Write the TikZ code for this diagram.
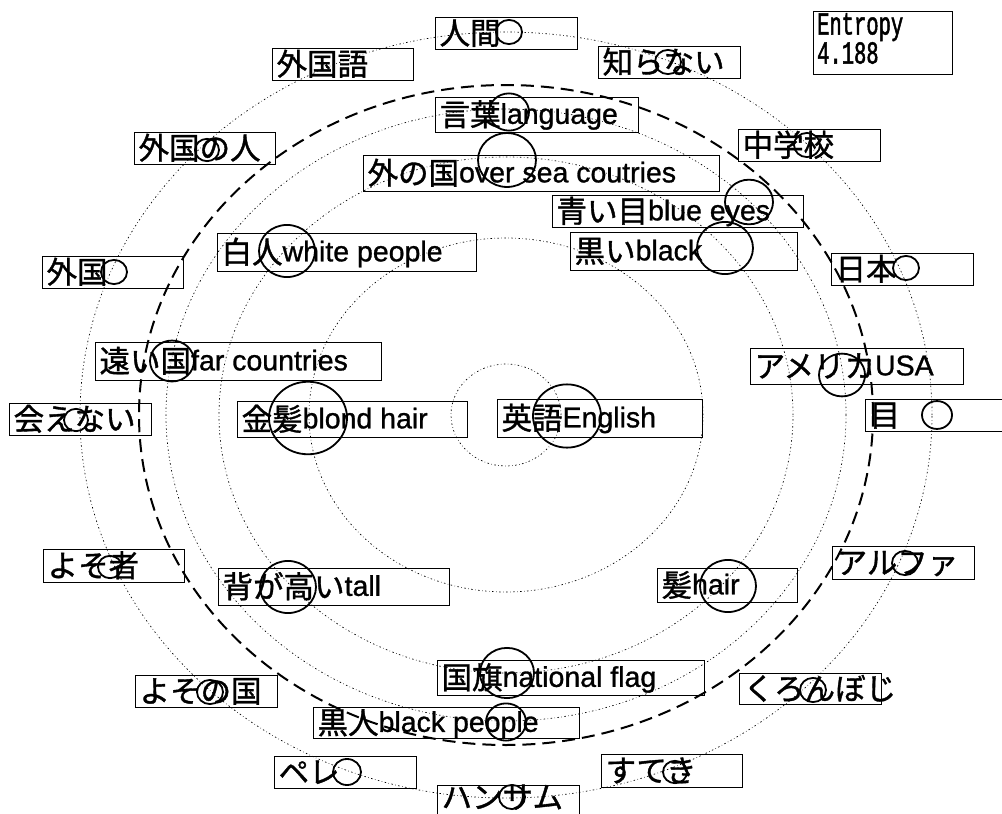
\documentclass[tikz,border=0pt]{standalone}
\usepackage{fontspec}
\setmainfont{Liberation Sans}
\newfontfamily\jpfont[FakeBold=1.2]{Noto Sans CJK JP}
\newfontfamily\enfont[FakeBold=1]{Liberation Sans}
\newfontfamily\entfont[FakeStretch=0.64,FakeBold=1.5]{Liberation Mono}
\usetikzlibrary{shapes.geometric}
\newcommand\J[1]{{\jpfont\fontsize{30.5}{31}\selectfont #1}}
\newcommand\E[1]{\raisebox{2pt}{\enfont\fontsize{28.5}{30}\selectfont #1}}
% name, left, top, right, bottom, content
\newcommand\wbox[6]{\node[wordbox, minimum width={(#4-#2)*1pt}, minimum height={(#5-#3)*1pt}] (#1) at (#2,#3) {\makebox[\dimexpr #4pt-#2pt\relax][l]{\hspace{4pt}#6}};}
% name, x, y, radius
\newcommand\fc[4]{\node[freq, minimum width={2*#4*1pt}, minimum height={1.86*#4*1pt}] (#1) at (#2,#3) {};}
\begin{document}
\begin{tikzpicture}[x=1pt,y=-1pt,
  wordbox/.style={draw, line width=1.2pt, rectangle, anchor=north west, inner sep=0pt, text height=25.5pt, text depth=4pt},
  freq/.style={draw, ellipse, line width=1.8pt, inner sep=0pt},
  ring/.style={line width=0.7pt, dash pattern=on 1.5pt off 2.5pt on 0.5pt off 2.5pt},
  bigdash/.style={line width=2pt, dash pattern=on 13pt off 7pt}]
\useasboundingbox (0,0) rectangle (1002,814);
\fill[white] (0,0) rectangle (1002,814);
\coordinate (ctr) at (506,415);
% concentric rings
\draw[ring] (ctr) ellipse [x radius=426pt, y radius=383pt];
\draw[ring] (ctr) ellipse [x radius=340pt, y radius=306pt];
\draw[ring] (ctr) ellipse [x radius=287pt, y radius=258pt];
\draw[ring] (ctr) ellipse [x radius=197pt, y radius=177pt];
\draw[ring] (ctr) ellipse [x radius=55pt, y radius=51pt];
\draw[bigdash] (ctr) ellipse [x radius=367pt, y radius=330pt];
% word boxes
\wbox{b1}{435}{17}{577}{49}{\J{人間}}
\wbox{b2}{272}{48}{413}{80}{\J{外国語}}
\wbox{b3}{598}{46}{740}{78}{\J{知らない}}
\wbox{b4}{435}{97}{638}{132}{\J{言葉}\E{language}}
\wbox{b5}{134}{132}{275}{164}{\J{外国の人}}
\wbox{b6}{738}{129}{880}{161}{\J{中学校}}
\wbox{b7}{363}{155}{719}{191}{\J{外の国}\E{over sea coutries}}
\wbox{b8}{552}{195}{803}{227}{\J{青い目}\E{blue eyes}}
\wbox{b9}{570}{232}{797}{270}{\J{黒い}\E{black}}
\wbox{b10}{217}{233}{476}{271}{\J{白人}\E{white people}}
\wbox{b11}{42}{256}{183}{288}{\J{外国}}
\wbox{b12}{831}{253}{973}{285}{\J{日本}}
\wbox{b13}{95}{342}{381}{380}{\J{遠い国}\E{far countries}}
\wbox{b14}{750}{348}{963}{384}{\J{アメリカ}\E{USA}}
\wbox{b15}{9}{403}{151}{435}{\J{会えない}}
\wbox{b16}{237}{401}{467}{437}{\J{金髪}\E{blond hair}}
\wbox{b17}{497}{399}{702}{437}{\J{英語}\E{English}}
\wbox{b18}{865}{399}{1007}{431}{\J{目}}
\wbox{b19}{43}{549}{184}{582}{\J{よそ者}}
\wbox{b20}{218}{568}{449}{605}{\J{背が高い}\E{tall}}
\wbox{b21}{657}{568}{797}{602}{\J{髪}\E{hair}}
\wbox{b22}{832}{546}{974}{579}{\J{アルファ}}
\wbox{b23}{437}{660}{704}{695}{\J{国旗}\E{national flag}}
\wbox{b24}{135}{675}{277}{707}{\J{よその国}}
\wbox{b25}{739}{673}{881}{704}{\J{くろんぼじ}}
\wbox{b26}{313}{707}{579}{738}{\J{黒人}\E{black people}}
\wbox{b27}{274}{756}{416}{788}{\J{ペレ}}
\wbox{b28}{601}{754}{742}{787}{\J{すてき}}
\wbox{b29}{437}{785}{579}{817}{\raisebox{4pt}{\J{ハンサム}}}
% entropy box
\node[draw, line width=1.2pt, rectangle, anchor=north west, inner sep=0pt, minimum width=139pt, minimum height=63pt] (ent) at (813,11) {};
\node[anchor=north west, inner sep=0pt, align=left, font=\entfont\fontsize{32}{27}\selectfont] (entt) at (817,13) {Entropy\\4.188};
% frequency circles
\fc{c1}{509}{32}{13}
\fc{c3}{668}{62}{13}
\fc{c4}{509}{112}{20}
\fc{c5}{207}{150}{12}
\fc{c6}{807}{145}{13}
\fc{c7}{507}{160}{29}
\fc{c8}{749}{202}{24}
\fc{c9}{725}{248}{28}
\fc{c10}{287}{251}{28}
\fc{c11}{114}{272}{13}
\fc{c12}{906}{268}{13}
\fc{c13}{172}{361}{22}
\fc{c14}{842}{375}{23}
\fc{c15}{76}{420}{12}
\fc{c16}{308}{418}{39}
\fc{c17}{567}{416}{34}
\fc{c18}{937}{415}{15}
\fc{c19}{110}{567}{12}
\fc{c20}{288}{587}{28}
\fc{c21}{728}{586}{28}
\fc{c22}{905}{563}{13}
\fc{c23}{507}{673}{27}
\fc{c24}{210}{692}{13}
\fc{c25}{813}{690}{13}
\fc{c26}{506}{722}{20}
\fc{c27}{347}{772}{14}
\fc{c28}{675}{772}{12}
\fc{c29}{512}{797}{13}
\end{tikzpicture}
\end{document}
